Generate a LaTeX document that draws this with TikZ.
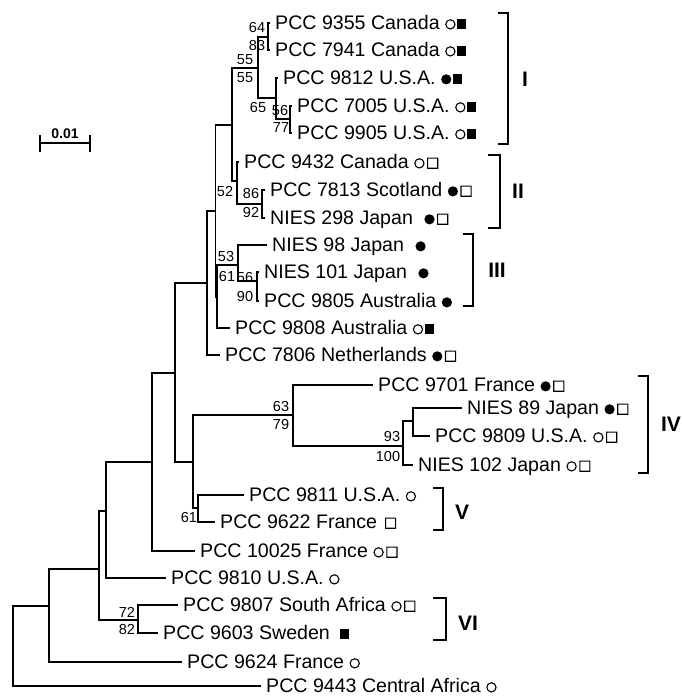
\documentclass[tikz,border=0pt]{standalone}
\usepackage{fontspec}
\setmainfont{Liberation Sans}
\usetikzlibrary{positioning}
\newcommand{\symoc}{\tikz[baseline=-0.6pt]\fill[even odd rule] (5pt,5pt) circle (5.2pt) (5pt,5pt) circle (4pt);}
\newcommand{\symfc}{\tikz[baseline=-0.6pt]\fill (5pt,5pt) circle (5.1pt);}
\newcommand{\symos}{\hspace{2.5pt}\tikz[baseline=-0.2pt]\fill[even odd rule] (0pt,0pt) rectangle (11.2pt,11.2pt) (1.1pt,1.1pt) rectangle (10.1pt,10.1pt);}
\newcommand{\symfs}{\hspace{1.5pt}\tikz[baseline=-0.6pt]\fill (0pt,0pt) rectangle (9pt,10pt);}

\begin{document}
\begin{tikzpicture}[x=1pt,y=-1pt,
  tree/.style={line width=1.3pt},
  leaf/.style={anchor=west,inner xsep=5pt,inner ysep=0pt,text height=15.9pt,text depth=2pt,font=\fontsize{19.6}{21}\selectfont},
  boot/.style={inner sep=0pt,font=\fontsize{14.5}{16}\selectfont},
  clade/.style={line width=2.4pt},
  cladename/.style={inner sep=0pt,font=\fontsize{21}{23}\selectfont\bfseries}]
  \useasboundingbox (0,0) rectangle (682,696);

  \node[leaf] (p9355) at (270,23) {PCC 9355 Canada \symoc\symfs};
  \node[leaf] (p7941) at (270,50) {PCC 7941 Canada \symoc\symfs};
  \node[leaf] (p9812) at (278,78) {PCC 9812 U.S.A. \symfc\symfs};
  \node[leaf] (p7005) at (292,106) {PCC 7005 U.S.A. \symoc\symfs};
  \node[leaf] (p9905) at (292,133) {PCC 9905 U.S.A. \symoc\symfs};
  \node[leaf] (p9432) at (239,162) {PCC 9432 Canada \symoc\symos};
  \node[leaf] (p7813) at (265,190) {PCC 7813 Scotland \symfc\symos};
  \node[leaf] (n298) at (265,218) {NIES 298 Japan \hspace{6pt}\symfc\symos};
  \node[leaf] (n98) at (267,245) {NIES 98 Japan \hspace{6pt}\symfc};
  \node[leaf] (n101) at (259,272) {NIES 101 Japan \hspace{6pt}\symfc};
  \node[leaf] (p9805) at (259,301) {PCC 9805 Australia \symfc};
  \node[leaf] (p9808) at (230,328) {PCC 9808 Australia \symoc\symfs};
  \node[leaf] (p7806) at (220,355) {PCC 7806 Netherlands \symfc\symos};
  \node[leaf] (p9701) at (373,385) {PCC 9701 France \symfc\symos};
  \node[leaf] (n89) at (462,408) {NIES 89 Japan \symfc\symos};
  \node[leaf] (p9809) at (430,436) {PCC 9809 U.S.A. \symoc\symos};
  \node[leaf] (n102) at (413,465) {NIES 102 Japan \symoc\symos};
  \node[leaf] (p9811) at (244,495) {PCC 9811 U.S.A. \symoc};
  \node[leaf] (p9622) at (215,522) {PCC 9622 France \symos};
  \node[leaf] (p10025) at (195,551) {PCC 10025 France \symoc\symos};
  \node[leaf] (p9810) at (166,578) {PCC 9810 U.S.A. \symoc};
  \node[leaf] (p9807) at (178,605) {PCC 9807 South Africa \symoc\symos};
  \node[leaf] (p9603) at (158,633) {PCC 9603 Sweden \hspace{3pt}\symfs};
  \node[leaf] (p9624) at (182,662) {PCC 9624 France \symoc};
  \node[leaf] (p9443) at (261,686) {PCC 9443 Central Africa \symoc};

  \coordinate (nA) at (268,37);
  \coordinate (nB) at (258,68);
  \coordinate (nC) at (276,98);
  \coordinate (nD) at (290,119);
  \coordinate (nE) at (232,125);
  \coordinate (nF) at (237,181);
  \coordinate (nG) at (262,204);
  \coordinate (nH) at (215.5,211);
  \coordinate (nI) at (207,283);
  \coordinate (nJ) at (217,297);
  \coordinate (nK) at (257,281);
  \coordinate (nL) at (238,265);
  \coordinate (nM) at (403,446);
  \coordinate (nN) at (413,421);
  \coordinate (nX) at (293,415);
  \coordinate (nO) at (198,508);
  \coordinate (nP) at (193,462);
  \coordinate (nQ) at (175,373);
  \coordinate (nR) at (152,462);
  \coordinate (nS) at (106,511);
  \coordinate (nT) at (99,569);
  \coordinate (nU) at (49,606);
  \coordinate (nV) at (13,646);
  \coordinate (nW) at (138,620);

  \draw[tree] (nA) |- (p9355);
  \draw[tree] (nA) |- (p7941);
  \draw[tree] (nD) |- (p7005);
  \draw[tree] (nD) |- (p9905);
  \draw[tree] (nC) |- (p9812);
  \draw[tree] (nC) |- (nD);
  \draw[tree] (nB) |- (nA);
  \draw[tree] (nB) |- (nC);
  \draw[tree] (nG) |- (p7813);
  \draw[tree] (nG) |- (n298);
  \draw[tree] (nF) |- (p9432);
  \draw[tree] (nF) |- (nG);
  \draw[tree] (nE) |- (nB);
  \draw[tree] (nE) |- (nF);
  \draw[tree] (nK) |- (n101);
  \draw[tree] (nK) |- (p9805);
  \draw[tree] (nL) |- (n98);
  \draw[tree] (nL) |- (nK);
  \draw[tree] (nJ) |- (nL);
  \draw[tree] (nJ) |- (p9808);
  \draw[tree] (nH) |- (nE);
  \draw[tree] (nH) |- (nJ);
  \draw[tree] (nI) |- (nH);
  \draw[tree] (nI) |- (p7806);
  \draw[tree] (nN) |- (n89);
  \draw[tree] (nN) |- (p9809);
  \draw[tree] (nM) |- (nN);
  \draw[tree] (nM) |- (n102);
  \draw[tree] (nX) |- (p9701);
  \draw[tree] (nX) |- (nM);
  \draw[tree] (nO) |- (p9811);
  \draw[tree] (nO) |- (p9622);
  \draw[tree] (nP) |- (nX);
  \draw[tree] (nP) |- (nO);
  \draw[tree] (nQ) |- (nI);
  \draw[tree] (nQ) |- (nP);
  \draw[tree] (nR) |- (nQ);
  \draw[tree] (nR) |- (p10025);
  \draw[tree] (nS) |- (nR);
  \draw[tree] (nS) |- (p9810);
  \draw[tree] (nW) |- (p9807);
  \draw[tree] (nW) |- (p9603);
  \draw[tree] (nT) |- (nS);
  \draw[tree] (nT) |- (nW);
  \draw[tree] (nU) |- (nT);
  \draw[tree] (nU) |- (p9624);
  \draw[tree] (nV) |- (nU);
  \draw[tree] (nV) |- (p9443);

  \node[boot] (bA1) at (257,28) {64};
  \node[boot] (bA2) at (257,46) {83};
  \node[boot] (bB1) at (245,60) {55};
  \node[boot] (bB2) at (245,78) {55};
  \node[boot] (bC2) at (258,108) {65};
  \node[boot] (bD1) at (280,111) {56};
  \node[boot] (bD2) at (281,128) {77};
  \node[boot] (bF1) at (225,192) {52};
  \node[boot] (bG1) at (251,194) {86};
  \node[boot] (bG2) at (251,213) {92};
  \node[boot] (bL1) at (226,257) {53};
  \node[boot] (bL2) at (227,277) {61};
  \node[boot] (bK1) at (245,278) {56};
  \node[boot] (bK2) at (245,297) {90};
  \node[boot] (bX1) at (281,407) {63};
  \node[boot] (bX2) at (281,425) {79};
  \node[boot] (bM1) at (392,437) {93};
  \node[boot] (bM2) at (388,457) {100};
  \node[boot] (bO2) at (189,518) {61};
  \node[boot] (bW1) at (127,612) {72};
  \node[boot] (bW2) at (127,630) {82};

  \draw[clade] (498,13) -- (508,13) -- (508,144) -- (498,144);
  \draw[clade] (488,155) -- (500,155) -- (500,228) -- (488,228);
  \draw[clade] (463,234) -- (473,234) -- (473,306) -- (463,306);
  \draw[clade] (638,376) -- (648,376) -- (648,473) -- (638,473);
  \draw[clade] (433,488) -- (443,488) -- (443,530) -- (433,530);
  \draw[clade] (433,598) -- (446,598) -- (446,640) -- (433,640);
  \node[cladename] (cI) at (525,79) {I};
  \node[cladename] (cII) at (518,191) {II};
  \node[cladename] (cIII) at (497,270) {III};
  \node[cladename] (cIV) at (671,424) {IV};
  \node[cladename] (cV) at (462,512) {V};
  \node[cladename] (cVI) at (468,623) {VI};

  \coordinate (sbL) at (40,143);
  \coordinate (sbR) at (90,143);
  \draw[tree] (sbL) -- (sbR);
  \draw[tree] (40,135) -- (40,152);
  \draw[tree] (90,135) -- (90,152);
  \node[inner sep=0pt,font=\fontsize{14}{16}\selectfont\bfseries] (sbT) at (65,134) {0.01};
\end{tikzpicture}
\end{document}
